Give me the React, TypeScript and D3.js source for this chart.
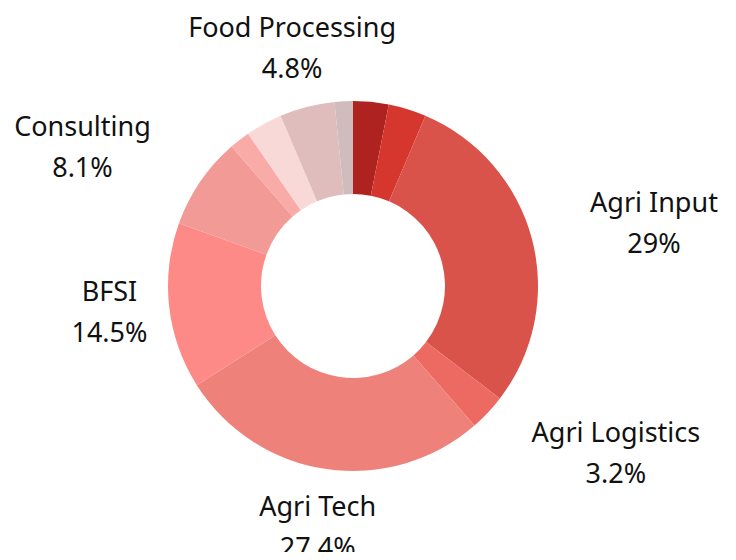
import React, { useRef, useEffect } from 'react';
import * as d3 from 'd3';

// slices clockwise from 12 o'clock; empty name = no label drawn
const categories = ['', '', 'Agri Input', 'Agri Logistics', 'Agri Tech', 'BFSI', 'Consulting', '', '', 'Food Processing', ''];
const shares = [3.1, 3.3, 29, 3.2, 27.4, 14.5, 8.1, 1.8, 3.2, 4.8, 1.6];
const colors = ['#ae231f', '#d5372f', '#d9534a', '#ed6a63', '#ee827b', '#fe8a87', '#f29a95', '#f9aba7', '#f9d8d8', '#e0bdbd', '#d0bcbc'];

const App = () => {
    const svgRef = useRef<SVGSVGElement>(null);

    useEffect(() => {
        const width = 736;
        const height = 560;
        const cx = 353;
        const cy = 286;
        const outer = 185;
        const inner = 92;
        const labelR = 245;

        const svg = d3.select(svgRef.current)
            .attr('width', width)
            .attr('height', height);
        svg.selectAll('*').remove();

        const pie = d3.pie<number>().sort(null).value(d => d);
        const arcs = pie(shares);
        const arc = d3.arc<d3.PieArcDatum<number>>().innerRadius(inner).outerRadius(outer);

        const g = svg.append('g').attr('transform', `translate(${cx},${cy})`);

        g.selectAll('path')
            .data(arcs)
            .join('path')
            .attr('d', arc)
            .attr('fill', (d, i) => colors[i]);

        g.selectAll('g.lbl')
            .data(arcs.filter((d, i) => categories[i] !== ''))
            .join('g')
            .attr('class', 'lbl')
            .each(function (d) {
                const a = (d.startAngle + d.endAngle) / 2;
                const s = Math.sin(a);
                const c = Math.cos(a);
                const x = labelR * s;
                const y = -labelR * c;
                let anchor = 'middle';
                if (Math.abs(s) > 0.3 && Math.abs(c) > 0.2) anchor = s > 0 ? 'start' : 'end';
                const t = d3.select(this).append('text')
                    .attr('font-family', '"Noto Sans", sans-serif')
                    .attr('font-size', 27)
                    .attr('fill', '#111');
                t.append('tspan').attr('x', x).attr('y', y - 12).text(categories[d.index]);
                t.append('tspan').attr('x', x).attr('y', y + 29).text(d.value + '%');
                if (anchor !== 'middle') {
                    // center both lines in the block that starts/ends at the anchor point
                    const w = (t.node() as SVGTextElement).getBBox().width;
                    const mid = anchor === 'start' ? x + w / 2 : x - w / 2;
                    t.selectAll('tspan').attr('x', mid);
                }
                t.attr('text-anchor', 'middle');
            });
    }, []);

    return <svg ref={svgRef} style={{ display: 'block', margin: -8 }}></svg>;
};

export default App;
